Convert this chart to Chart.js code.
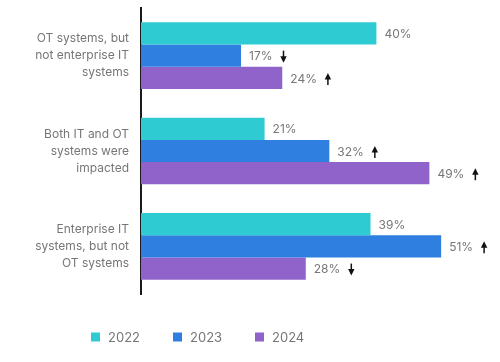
<!DOCTYPE html>
<html>
<head>
<meta charset="utf-8">
<script src="https://cdn.jsdelivr.net/npm/chart.js@4"></script>
<style>
    html, body { margin: 0; padding: 0; background: #fff; }
    #wrap { width: 500px; height: 362px; }
</style>
</head>
<body>
<div id="wrap"><canvas id="impactChart"></canvas></div>
<script>
const categories = [
    ['OT systems, but', 'not enterprise IT', 'systems'],
    ['Both IT and OT', 'systems were', 'impacted'],
    ['Enterprise IT', 'systems, but not', 'OT systems']
];
const years = ['2022', '2023', '2024'];
const values2022 = [40, 21, 39];
const values2023 = [17, 32, 51];
const values2024 = [24, 49, 28];
// change vs previous year: 1 = up, -1 = down, 0 = none
const change2022 = [0, 0, 0];
const change2023 = [-1, 1, 1];
const change2024 = [1, 1, -1];

const colors = ['#2ecbd2', '#2f7fe0', '#8f63ca'];
const textGrey = '#767676';
const fontFamily = 'Inter, "Noto Sans", sans-serif';

const seriesValues = [values2022, values2023, values2024];
const seriesChanges = [change2022, change2023, change2024];

function drawArrow(ctx, x, y, dir) {
    const h = 12;
    const top = y - h / 2;
    const bottom = y + h / 2;
    ctx.save();
    ctx.strokeStyle = '#111';
    ctx.fillStyle = '#111';
    ctx.lineWidth = 1.5;
    ctx.beginPath();
    if (dir > 0) {
        ctx.moveTo(x, bottom);
        ctx.lineTo(x, top + 4);
        ctx.stroke();
        ctx.beginPath();
        ctx.moveTo(x, top);
        ctx.lineTo(x - 3.2, top + 6.5);
        ctx.lineTo(x + 3.2, top + 6.5);
    } else {
        ctx.moveTo(x, top);
        ctx.lineTo(x, bottom - 4);
        ctx.stroke();
        ctx.beginPath();
        ctx.moveTo(x, bottom);
        ctx.lineTo(x - 3.2, bottom - 6.5);
        ctx.lineTo(x + 3.2, bottom - 6.5);
    }
    ctx.closePath();
    ctx.fill();
    ctx.restore();
}

// value labels + change arrows
const valueLabels = {
    id: 'valueLabels',
    afterDatasetsDraw(chart) {
        const ctx = chart.ctx;
        ctx.save();
        ctx.font = '12px ' + fontFamily;
        ctx.fillStyle = textGrey;
        ctx.textAlign = 'left';
        ctx.textBaseline = 'middle';
        chart.data.datasets.forEach((ds, i) => {
            chart.getDatasetMeta(i).data.forEach((bar, j) => {
                const text = ds.data[j] + '%';
                const x = bar.x + 8;
                ctx.fillText(text, x, bar.y + 1);
                const dir = seriesChanges[i][j];
                if (dir !== 0) {
                    const w = ctx.measureText(text).width;
                    drawArrow(ctx, x + w + 11, bar.y + 1, dir);
                }
            });
        });
        ctx.restore();
    }
};

// legend drawn under the plot
const bottomLegend = {
    id: 'bottomLegend',
    afterDraw(chart) {
        const ctx = chart.ctx;
        const startX = 91;
        const step = 82;
        const y = 337;
        ctx.save();
        ctx.font = '13px ' + fontFamily;
        ctx.textBaseline = 'middle';
        ctx.textAlign = 'left';
        chart.data.datasets.forEach((ds, i) => {
            const x = startX + i * step;
            ctx.fillStyle = ds.backgroundColor;
            ctx.fillRect(x, y - 4.5, 9, 9);
            ctx.fillStyle = textGrey;
            ctx.fillText(ds.label, x + 17, y + 1);
        });
        ctx.restore();
    }
};

const ctx = document.getElementById('impactChart').getContext('2d');
const impactChart = new Chart(ctx, {
    type: 'bar',
    data: {
        labels: categories,
        datasets: years.map((year, i) => ({
            label: year,
            data: seriesValues[i],
            backgroundColor: colors[i],
            borderWidth: 0,
            barPercentage: 1,
            categoryPercentage: 0.7
        }))
    },
    options: {
        indexAxis: 'y',
        responsive: true,
        maintainAspectRatio: false,
        animation: false,
        layout: {
            padding: { top: 8, bottom: 68, left: 0, right: 0 }
        },
        scales: {
            x: {
                display: false,
                min: 0,
                max: 61
            },
            y: {
                afterFit: (scale) => {
                    scale.width = 141;
                    scale.paddingTop = 0;
                    scale.paddingBottom = 0;
                },
                grid: { display: false, drawTicks: false },
                border: { display: true, color: '#1a1a1a', width: 2 },
                ticks: {
                    color: textGrey,
                    padding: 12,
                    font: { family: fontFamily, size: 12, lineHeight: 1.42 }
                }
            }
        },
        plugins: {
            legend: { display: false },
            tooltip: { enabled: false }
        }
    },
    plugins: [valueLabels, bottomLegend]
});
</script>
</body>
</html>
